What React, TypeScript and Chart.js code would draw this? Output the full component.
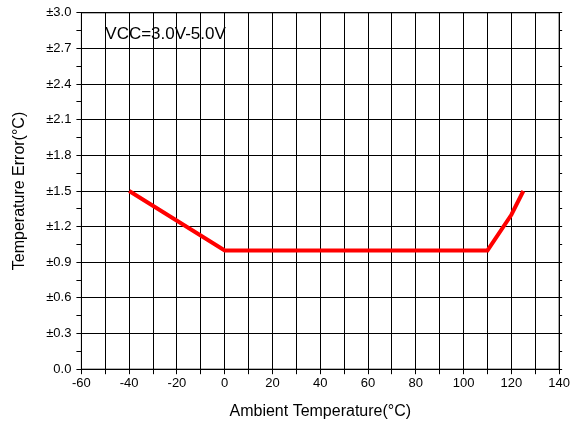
import React, { useEffect, useRef } from "react";
import { Chart, registerables } from "chart.js";

Chart.register(...registerables);

// ---- data ----
const temperatures: number[] = [-40, 0, 110, 120, 125];
const errors: number[] = [1.5, 1.0, 1.0, 1.3, 1.5];
const yTickLabels: string[] = ["0.0", "±0.3", "±0.6", "±0.9", "±1.2", "±1.5", "±1.8", "±2.1", "±2.4", "±2.7", "±3.0"];
const xMin = -60;
const xMax = 140;
const yMin = 0;
const yMax = 3;
const annotationText = "VCC=3.0V-5.0V";
const annotationX = -50;
const annotationY = 2.82;
const xTitle = "Ambient Temperature(°C)";
const yTitle = "Temperature Error(°C)";

const FONT = "'Liberation Sans', Arial, sans-serif";

const isMajorY = (v: number) => Math.round(v / 0.15) % 2 === 0;

export default function App() {
  const ref = useRef<HTMLCanvasElement | null>(null);

  useEffect(() => {
    if (!ref.current) return;
    const framePlugin = {
      id: "frame",
      afterDraw(chart: any) {
        const { ctx, chartArea } = chart;
        ctx.save();
        ctx.strokeStyle = "#000";
        ctx.lineWidth = 1;
        ctx.strokeRect(chartArea.left, chartArea.top, chartArea.right - chartArea.left, chartArea.bottom - chartArea.top);
        const xs = chart.scales.x;
        const ys = chart.scales.y;
        ctx.fillStyle = "#000";
        ctx.font = `17px ${FONT}`;
        ctx.textBaseline = "middle";
        ctx.textAlign = "left";
        ctx.fillText(annotationText, xs.getPixelForValue(annotationX), ys.getPixelForValue(annotationY));
        ctx.restore();
      },
    };

    const chart = new Chart(ref.current, {
      type: "line",
      data: {
        datasets: [
          {
            data: temperatures.map((t, i) => ({ x: t, y: errors[i] })),
            borderColor: "#ff0000",
            borderWidth: 4,
            pointRadius: 0,
            fill: false,
            tension: 0,
          },
        ],
      },
      options: {
        responsive: false,
        animation: false,
        layout: { padding: { top: 10, right: 7, bottom: 7, left: 10 } },
        plugins: { legend: { display: false }, tooltip: { enabled: false } },
        scales: {
          x: {
            type: "linear",
            min: xMin,
            max: xMax,
            ticks: {
              stepSize: 10,
              autoSkip: false,
              maxRotation: 0,
              color: "#000",
              font: { family: FONT, size: 13 },
              padding: 1,
              callback: (v: any) => (Math.round(v) % 20 === 0 ? String(Math.round(v)) : ""),
            },
            grid: { color: "#000", lineWidth: 1, tickLength: 5, tickColor: "#000" },
            border: { color: "#000", width: 1 },
            title: { display: true, text: xTitle, color: "#000", font: { family: FONT, size: 16 }, padding: { top: 10, bottom: 0 } },
          },
          y: {
            type: "linear",
            min: yMin,
            max: yMax,
            ticks: {
              stepSize: 0.15,
              autoSkip: false,
              color: "#000",
              font: { family: FONT, size: 13 },
              padding: 5,
              callback: (v: any) => {
                const k = Math.round(v / 0.15);
                return k % 2 === 0 ? yTickLabels[k / 2] : "";
              },
            },
            grid: {
              color: (c: any) => (c && c.tick && !isMajorY(c.tick.value) ? "rgba(0,0,0,0)" : "#000"),
              tickColor: "#000",
              lineWidth: 1,
              tickLength: 5,
            },
            border: { color: "#000", width: 1 },
            title: { display: true, text: yTitle, color: "#000", font: { family: FONT, size: 16 }, padding: { top: 0, bottom: 12 } },
          },
          y2: {
            type: "linear",
            position: "right",
            min: yMin,
            max: yMax,
            ticks: { stepSize: 0.15, autoSkip: false, padding: 0, callback: () => "" },
            grid: { drawOnChartArea: false, tickLength: 3, tickColor: "#000" },
            border: { color: "#000", width: 1 },
          },
        },
      } as any,
      plugins: [framePlugin],
    });
    return () => chart.destroy();
  }, []);

  return (
    <div style={{ position: "absolute", left: 0, top: 0, width: 571, height: 428, background: "#fff" }}>
      <canvas ref={ref} width={571} height={428} style={{ display: "block" }} />
    </div>
  );
}
